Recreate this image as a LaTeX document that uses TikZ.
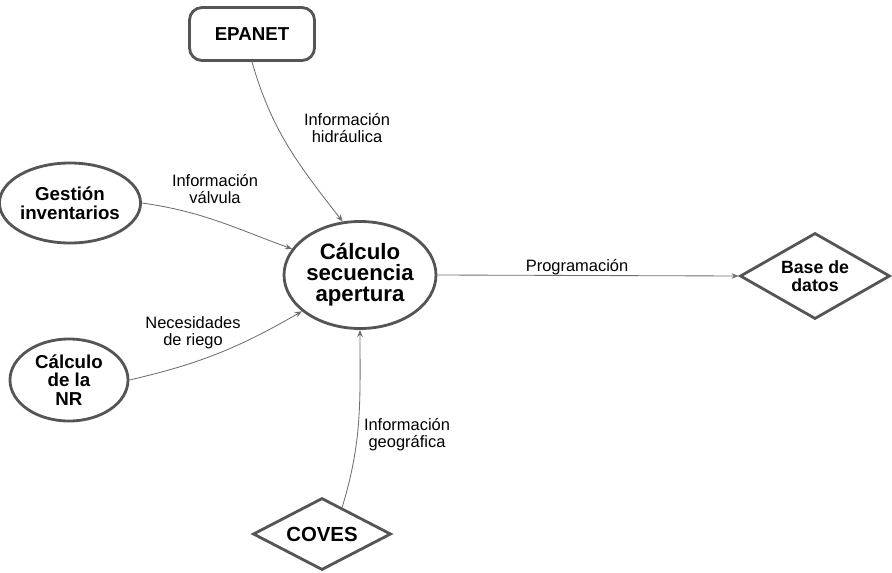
\documentclass[tikz,border=0pt]{standalone}
\usepackage{fontspec}
\setmainfont{Liberation Sans}
\usetikzlibrary{shapes.geometric,arrows.meta}

\definecolor{borde}{HTML}{555555}
\definecolor{flecha}{HTML}{6E6E6E}

\begin{document}
\begin{tikzpicture}[x=0.025cm,y=-0.025cm,
    caja/.style={draw=borde,line width=2pt,inner sep=0pt,align=center,
      font=\bfseries\fontsize{13.3}{13.3}\selectfont},
    proceso/.style={caja,ellipse},
    almacen/.style={caja,diamond},
    etiqueta/.style={align=center,inner sep=1pt,font=\fontsize{11.7}{12}\selectfont},
    flujo/.style={draw=flecha,line width=0.6pt,-{Stealth[length=5pt,width=4pt]}}]
  \useasboundingbox (0,0) rectangle (892,572);

  \node[caja,rounded corners=9pt,minimum width=3.125cm,minimum height=1.325cm]
    (epanet) at (252,34) {EPANET};
  \node[proceso,minimum width=2.875cm,minimum height=2cm]
    (gestion) at (70,203) {Gestión\\inventarios};
  \node[proceso,minimum width=2.95cm,minimum height=2.05cm]
    (nr) at (69,380) {Cálculo\\de la\\NR};
  \node[proceso,minimum width=3.75cm,minimum height=2.675cm,
    font=\bfseries\fontsize{15.8}{15}\selectfont]
    (calculo) at (360,275) {Cálculo\\secuencia\\apertura};
  \node[almacen,aspect=1.74,minimum width=3.75cm,minimum height=2.15cm,
    font=\bfseries\fontsize{12.6}{13}\selectfont]
    (bd) at (815,276) {Base de\\datos};
  \node[almacen,aspect=1.92,minimum width=3.45cm,minimum height=1.8cm,
    font=\bfseries\fontsize{14.5}{14.5}\selectfont]
    (coves) at (322,534) {COVES};

  \node[etiqueta] (l1) at (347,128) {Información\\hidráulica};
  \node[etiqueta] (l2) at (215,189) {Información\\válvula};
  \node[etiqueta] (l3) at (193,333) {Necesidades\\de riego};
  \node[etiqueta] (l4) at (577,267) {Programación};
  \node[etiqueta] (l5) at (407,435) {Información\\geográfica};

  \begin{scope}[flujo]
    \draw (epanet.south) to[out=-74,in=128] (calculo.108);
    \draw (gestion.east) to[out=-8,in=160] (calculo.159);
    \draw (nr.east) to[out=13,in=210] (calculo.212);
    \draw (calculo.east) to (bd.west);
    \draw (coves.53) to[out=73,in=-90] (calculo.south);
  \end{scope}
\end{tikzpicture}
\end{document}
